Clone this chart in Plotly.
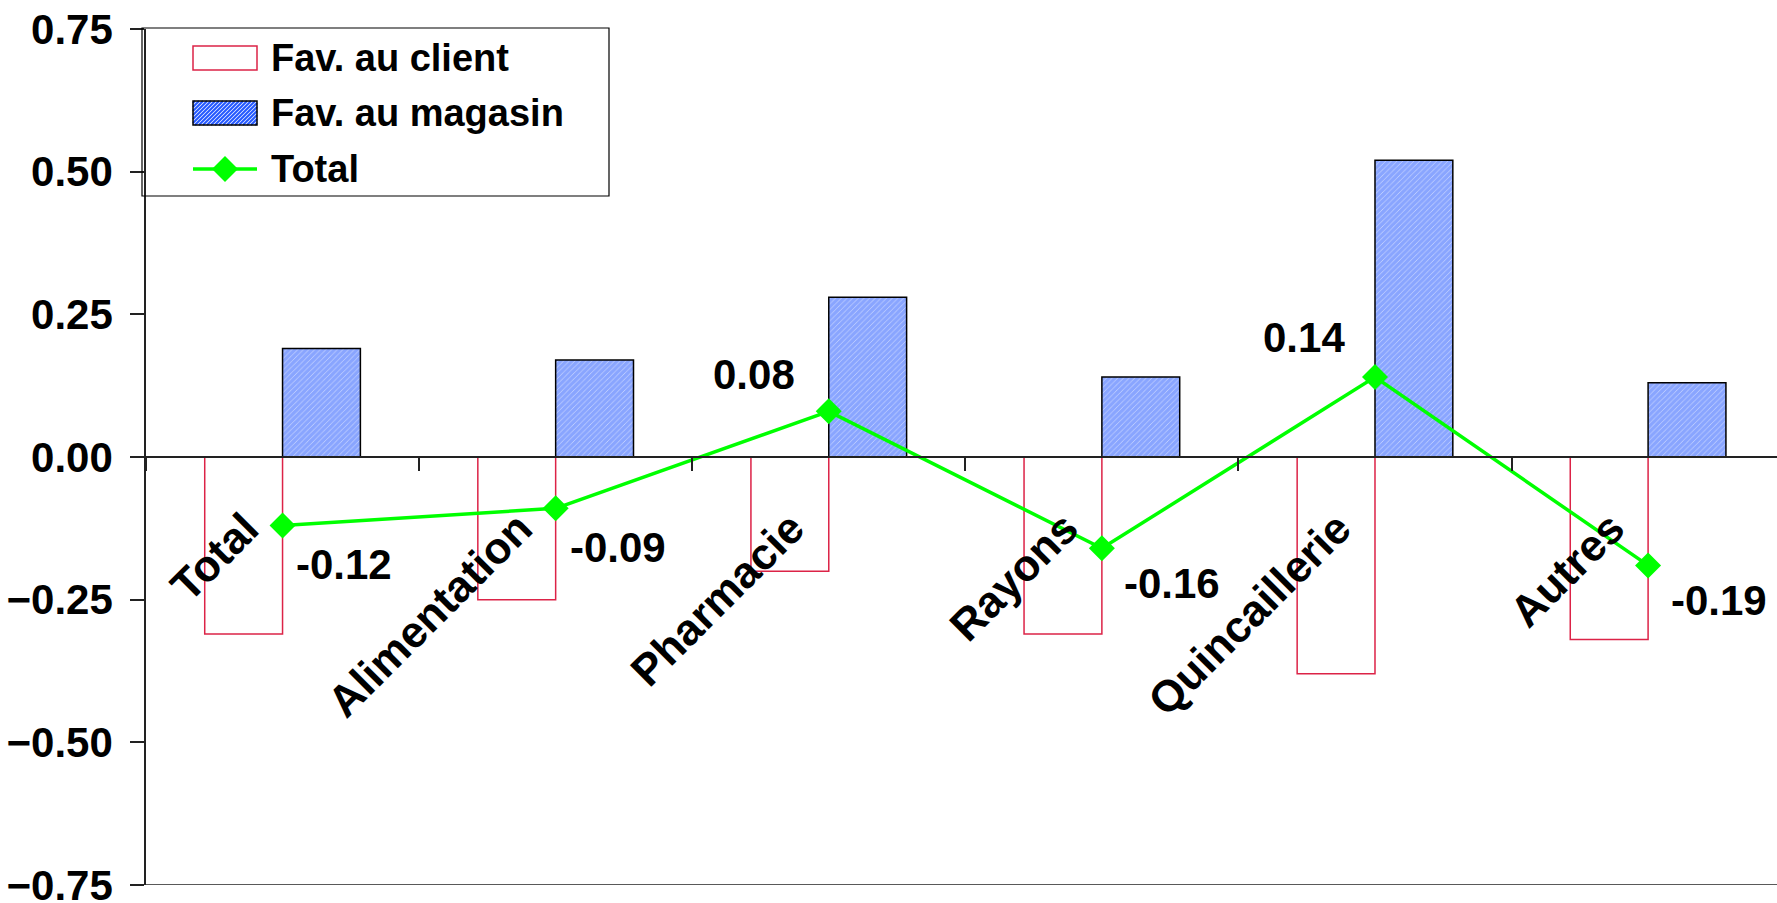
import plotly.graph_objects as go

# ---- data -------------------------------------------------------------
categories = ["Total", "Alimentation", "Pharmacie", "Rayons", "Quincaillerie", "Autres"]
fav_client = [-0.31, -0.25, -0.20, -0.31, -0.38, -0.32]
fav_magasin = [0.19, 0.17, 0.28, 0.14, 0.52, 0.13]
total = [-0.12, -0.09, 0.08, -0.16, 0.14, -0.19]
y_tick_values = [-0.75, -0.50, -0.25, 0.00, 0.25, 0.50, 0.75]
series_names = ["Fav. au client", "Fav. au magasin", "Total"]

# ---- layout / style ---------------------------------------------------
W, H = 1777, 903
ML, MR, MT, MB = 146, 0, 29, 18
FONT = "Arial, 'Liberation Sans', sans-serif"
RED = "#dc2347"
BLUE = "#2458ff"
GREEN = "#00ff00"
AXIS = "#222222"

# pixel offsets of the value labels (xshift, yshift) per point
value_label_shift = [(11, -39), (12, -39), (-32, 37), (20, -35), (-28, 40), (21, -35)]


def px_x(px):
    return (px - ML) / (W - ML - MR)


def px_y(py):
    return (H - MB - py) / (H - MT - MB)


fig = go.Figure()

fig.add_trace(go.Bar(
    x=categories, y=fav_client, name=series_names[0],
    marker=dict(color="rgba(255,255,255,0)", line=dict(color=RED, width=1.5)),
    showlegend=False,
))
fig.add_trace(go.Bar(
    x=categories, y=fav_magasin, name=series_names[1],
    marker=dict(
        color="white",
        line=dict(color="black", width=1.5),
        pattern=dict(shape="/", fgcolor=BLUE, bgcolor="#eef2ff", size=4, solidity=0.9),
    ),
    showlegend=False,
))
fig.add_trace(go.Scatter(
    x=categories, y=total, name=series_names[2], mode="lines+markers",
    line=dict(color=GREEN, width=3.5),
    marker=dict(symbol="diamond", size=20, color=GREEN),
    showlegend=False,
))

annotations = []

# value labels for the Total line
for cat, v, (dx, dy) in zip(categories, total, value_label_shift):
    annotations.append(dict(
        x=cat, y=v, xref="x", yref="y", text=f"{v:.2f}", showarrow=False,
        xanchor="left" if v < 0 else "right", yanchor="middle",
        xshift=dx, yshift=dy,
        font=dict(family=FONT, size=42, color="black", weight="bold"),
    ))

# category labels, rotated, hanging below the zero line
for cat in categories:
    annotations.append(dict(
        x=cat, y=0, xref="x", yref="y", text=cat, showarrow=False,
        textangle=-45, xanchor="right", yanchor="top",
        xshift=-12, yshift=-43,
        font=dict(family=FONT, size=44, color="black", weight="bold"),
    ))

# ---- legend box drawn with shapes --------------------------------------
shapes = []
box = (142, 28, 609, 196)
shapes.append(dict(type="rect", xref="paper", yref="paper",
                   x0=px_x(box[0]), x1=px_x(box[2]), y0=px_y(box[3]), y1=px_y(box[1]),
                   line=dict(color="black", width=1.2), fillcolor="rgba(0,0,0,0)"))

row_y = [58, 113, 169]
sw_x0, sw_x1 = 193, 257
sw_h = 24

# red outline swatch
shapes.append(dict(type="rect", xref="paper", yref="paper",
                   x0=px_x(sw_x0), x1=px_x(sw_x1),
                   y0=px_y(row_y[0] + sw_h / 2), y1=px_y(row_y[0] - sw_h / 2),
                   line=dict(color=RED, width=1.5), fillcolor="white"))

# hatched swatch
hx0, hx1 = sw_x0, sw_x1
hy0, hy1 = row_y[1] - sw_h / 2, row_y[1] + sw_h / 2
hw, hh = hx1 - hx0, hy1 - hy0
segs = []
u = -hh + 2
while u < hw:
    if u >= 0:
        sx, sy = hx0 + u, hy1
    else:
        sx, sy = hx0, hy1 + u
    ex = hx0 + u + hh
    if ex <= hx1:
        ey = hy0
    else:
        ex, ey = hx1, hy1 + u - hw
    segs.append(f"M{px_x(sx):.5f},{px_y(sy):.5f}L{px_x(ex):.5f},{px_y(ey):.5f}")
    u += 4
shapes.append(dict(type="rect", xref="paper", yref="paper",
                   x0=px_x(hx0), x1=px_x(hx1), y0=px_y(hy1), y1=px_y(hy0),
                   line=dict(width=0), fillcolor="#eef2ff"))
shapes.append(dict(type="path", xref="paper", yref="paper", path="".join(segs),
                   line=dict(color=BLUE, width=2)))
shapes.append(dict(type="rect", xref="paper", yref="paper",
                   x0=px_x(hx0), x1=px_x(hx1), y0=px_y(hy1), y1=px_y(hy0),
                   line=dict(color="black", width=1.5), fillcolor="rgba(0,0,0,0)"))

# line + diamond swatch
ly = row_y[2]
shapes.append(dict(type="line", xref="paper", yref="paper",
                   x0=px_x(sw_x0), x1=px_x(sw_x1), y0=px_y(ly), y1=px_y(ly),
                   line=dict(color=GREEN, width=3.5)))
cx, r = (sw_x0 + sw_x1) / 2, 13
shapes.append(dict(type="path", xref="paper", yref="paper",
                   path=(f"M{px_x(cx - r):.5f},{px_y(ly):.5f}L{px_x(cx):.5f},{px_y(ly - r):.5f}"
                         f"L{px_x(cx + r):.5f},{px_y(ly):.5f}L{px_x(cx):.5f},{px_y(ly + r):.5f}Z"),
                   line=dict(width=0), fillcolor=GREEN))

for name, ry in zip(series_names, row_y):
    annotations.append(dict(
        x=px_x(269), y=px_y(ry), xref="paper", yref="paper", text=name,
        showarrow=False, xanchor="left", yanchor="middle",
        font=dict(family=FONT, size=38, color="black", weight="bold"),
    ))

# bottom frame line at the lower end of the value axis
shapes.append(dict(type="line", xref="paper", yref="y", x0=0, x1=1, y0=-0.75, y1=-0.75,
                   line=dict(color=AXIS, width=1.5)))

fig.update_layout(
    width=W, height=H,
    margin=dict(l=ML, r=MR, t=MT, b=MB, pad=0),
    paper_bgcolor="white", plot_bgcolor="white",
    barmode="group", bargap=0.43, bargroupgap=0,
    showlegend=False,
    shapes=shapes, annotations=annotations,
    xaxis=dict(
        type="category", categoryorder="array", categoryarray=categories,
        range=[-0.5, 5.472],
        anchor="free", position=0.5,
        showline=True, linecolor=AXIS, linewidth=1.5,
        ticks="outside", tickson="boundaries", ticklen=13, tickwidth=1.5, tickcolor=AXIS,
        showticklabels=False, showgrid=False, zeroline=False,
    ),
    yaxis=dict(
        range=[-0.75, 0.75], tickvals=y_tick_values, tickformat=".2f",
        showline=True, linecolor=AXIS, linewidth=1.5,
        ticks="outside", ticklen=14, tickwidth=1.5, tickcolor=AXIS,
        ticklabelstandoff=9, ticklabeloverflow="allow",
        tickfont=dict(family=FONT, size=42, color="black", weight="bold"),
        showgrid=False, zeroline=False, automargin=False,
    ),
)

fig.write_html("out.html")
